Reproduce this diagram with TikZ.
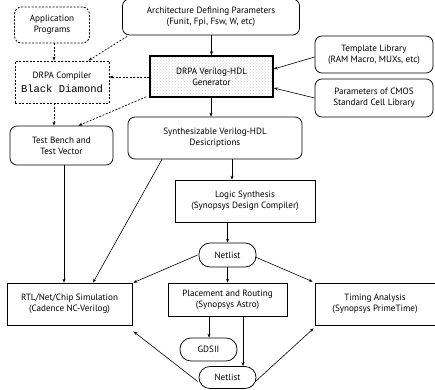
\documentclass[tikz,border=0pt]{standalone}
\usepackage{fontspec}
\setmainfont{PT Sans}
\newfontfamily\bdmono{Liberation Mono}
\usetikzlibrary{arrows.meta,patterns}
\begin{document}
\begin{tikzpicture}[x=1pt,y=-1pt,
  font=\fontsize{9.1}{11}\selectfont,
  base/.style={draw,line width=0.75pt,align=center,inner sep=0pt},
  rbox/.style={base,rounded corners=7pt},
  sbox/.style={base},
  pill/.style={base,rounded corners=11pt},
  dbox/.style={base,dashed,line width=0.8pt,dash pattern=on 2pt off 1.5pt},
  arr/.style={-{Stealth[length=4pt,width=3pt]},line width=0.6pt},
  darr/.style={arr,dash pattern=on 2pt off 1.5pt,line width=0.7pt}]
\useasboundingbox (0,0) rectangle (435,389);
\node[dbox,rounded corners=7pt,minimum width=75,minimum height=36] (app) at (52,25) {Application\\Programs};
\node[rbox,minimum width=177,minimum height=36] (arch) at (211,17) {Architecture Defining Parameters\\(Funit, Fpi, Fsw, W, etc)};
\node[dbox,minimum width=94,minimum height=42] (comp) at (62,82) {DRPA Compiler\\[3pt]{\bdmono\fontsize{10.5}{11}\selectfont Black Diamond}};
\node[sbox,line width=1.6pt,fill=black!3,pattern=crosshatch dots,pattern color=black!18,minimum width=123,minimum height=41] (gen) at (211.5,76.5) {};
\node[align=center] at (gen) {DRPA Verilog-HDL\\Generator};
\node[rbox,minimum width=118,minimum height=37] (tmpl) at (374,54.5) {Template Library\\(RAM Macro, MUXs, etc)};
\node[rbox,minimum width=118,minimum height=38] (cmos) at (374,98) {Parameters of CMOS\\Standard Cell Library};
\node[rbox,minimum width=103,minimum height=39] (tb) at (61.5,145.5) {Test Bench and\\Test Vector};
\node[rbox,minimum width=174,minimum height=42] (syn) at (215,138) {Synthesizable Verilog-HDL\\Desicriptions};
\node[sbox,minimum width=140,minimum height=42] (ls) at (245,201) {Logic Synthesis\\(Synopsys Design Compiler)};
\node[pill,minimum width=57,minimum height=24] (n1) at (227.5,255) {Netlist};
\node[sbox,minimum width=125,minimum height=42] (rtl) at (69.5,304) {RTL/Net/Chip Simulation\\(Cadence NC-Verilog)};
\node[sbox,minimum width=119,minimum height=33] (pr) at (227.5,299.5) {Placement and Routing\\(Synopsys Astro)};
\node[sbox,minimum width=120,minimum height=42] (ta) at (375,304) {Timing Analysis\\(Synopsys PrimeTime)};
\node[pill,minimum width=57,minimum height=23] (gds) at (208.5,349.5) {GDSII};
\node[pill,minimum width=57,minimum height=22] (n2) at (227.5,377.5) {Netlist};
% connectors
\draw[arr] (arch.south -| gen.north) -- (gen.north);
\draw[darr] ([xshift=5pt,yshift=-1pt]arch.south west) -- ([xshift=-21pt]comp.north east);
\draw[darr] (app.south -| 54,0) -- (comp.north -| 54,0);
\draw[darr] (gen.west |- 0,77) -- (comp.east |- 0,77);
\draw[darr] ([xshift=-3pt,yshift=1pt]gen.south west) -- ([xshift=17pt]tb.north);
\draw[darr] (comp.south -| 54,0) -- (tb.north -| 54,0);
\draw[arr] (gen.south -| 211,0) -- (syn.north -| 211,0);
\draw[arr] (tmpl.west |- 0,57) -- (gen.east |- 0,69);
\draw[arr] (cmos.west |- 0,98) -- (gen.east |- 0,88);
\draw[arr] (syn.south -| 232,0) -- (ls.north -| 232,0);
\draw[arr] (ls.south -| n1.north) -- (n1.north);
\draw[arr] (tb.south -| 64,0) -- (rtl.north -| 64,0);
\draw[arr] (syn.south -| 162,0) -- (rtl.north -| 93,0);
\draw[arr] ([xshift=-1pt]n1.west) -- ([xshift=1pt]rtl.north east);
\draw[arr] (n1.south) -- (pr.north);
\draw[arr] ([xshift=-1pt,yshift=-2pt]n1.east) -- ([xshift=-2pt,yshift=1pt]ta.north west);
\draw[arr] (pr.south -| 209,0) -- (gds.north -| 209,0);
\draw[arr] (pr.south -| 243,0) -- (n2.north -| 243,0);
\draw[arr] ([xshift=-1pt,yshift=-4pt]n2.west) -- ([xshift=1pt,yshift=-6pt]rtl.south east);
\draw[arr] ([xshift=-1pt,yshift=-4pt]n2.east) -- ([xshift=-1pt,yshift=-3pt]ta.south west);
\end{tikzpicture}
\end{document}
